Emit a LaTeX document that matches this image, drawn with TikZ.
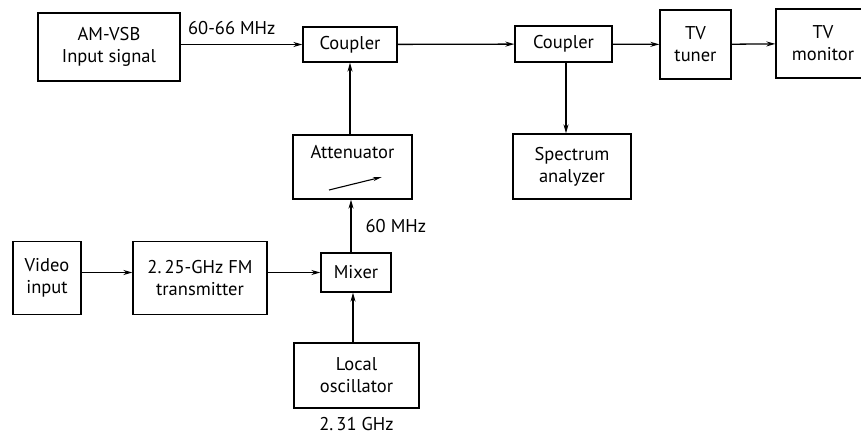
\documentclass[tikz,border=0pt]{standalone}
\usepackage{fontspec}
\setmainfont{PT Sans}
\usepackage{tikz}
\usetikzlibrary{arrows.meta,positioning,calc}
\tikzset{
    blk/.style={rectangle, draw, line width=1.3pt, inner sep=0pt, align=center, font=\fontsize{18.5}{22}\selectfont},
    flow/.style={-{Stealth[length=9pt,width=5pt]}, line width=1.3pt},
    lbl/.style={font=\fontsize{18.5}{22}\selectfont, inner sep=0pt},
}

\begin{document}
\begin{tikzpicture}[x=1pt, y=-1pt]
    \clip (0,0) rectangle (861,438);

    \node[blk, minimum width=142pt, minimum height=68pt] (amvsb) at (109,47) {AM-VSB\\Input signal};
    \node[blk, minimum width=94pt, minimum height=35pt] (coup1) at (350,44.5) {Coupler};
    \node[blk, minimum width=97pt, minimum height=36pt] (coup2) at (563.5,44) {Coupler};
    \node[blk, minimum width=71pt, minimum height=69pt] (tuner) at (695.5,44.5) {TV\\tuner};
    \node[blk, minimum width=94pt, minimum height=69pt] (monitor) at (823,43.5) {TV\\monitor};
    \node[blk, minimum width=118pt, minimum height=65pt] (spec) at (572,166.5) {Spectrum\\analyzer};
    \node[blk, minimum width=119pt, minimum height=64pt, text depth=30pt] (att) at (352.5,167) {Attenuator};
    \node[blk, minimum width=70pt, minimum height=39pt] (mixer) at (356,272.5) {Mixer};
    \node[blk, minimum width=68pt, minimum height=73pt] (video) at (47,278) {Video\\input};
    \node[blk, minimum width=134pt, minimum height=73pt] (tx) at (200,278) {2.\,25-GHz FM\\transmitter};
    \node[blk, minimum width=125pt, minimum height=65pt] (lo) at (356.5,375.5) {Local\\oscillator};

    \coordinate (c2out) at (566,0);
    \coordinate (mxout) at (351,0);
    \coordinate (loout) at (353,0);

    \draw[flow] (amvsb.east |- coup1) -- node[lbl, above=9pt, pos=0.42] {60-66 MHz} (coup1);
    \draw[flow] (coup1) -- (coup2);
    \draw[flow] (coup2) -- (tuner);
    \draw[flow] (tuner) -- (monitor);
    \draw[flow] (c2out |- coup2.south) -- (c2out |- spec.north);
    \draw[flow] (att.north -| coup1) -- (coup1.south);
    \draw[flow] (mxout |- mixer.north) -- node[lbl, right=14pt] {60 MHz} (mxout |- att.south);
    \draw[flow] (loout |- lo.north) -- (loout |- mixer.south);
    \draw[flow] (video.east |- mixer) -- (tx.west |- mixer);
    \draw[flow] (tx.east |- mixer) -- (mixer.west);

    % variable attenuator mark
    \draw[-{Stealth[length=9pt,width=4pt]}, line width=1.1pt] ($(att.center)+(-23.5,23)$) -- ($(att.center)+(29.5,10)$);

    \node[lbl, below=8pt of lo] (lofreq) {2.\,31 GHz};
\end{tikzpicture}
\end{document}
